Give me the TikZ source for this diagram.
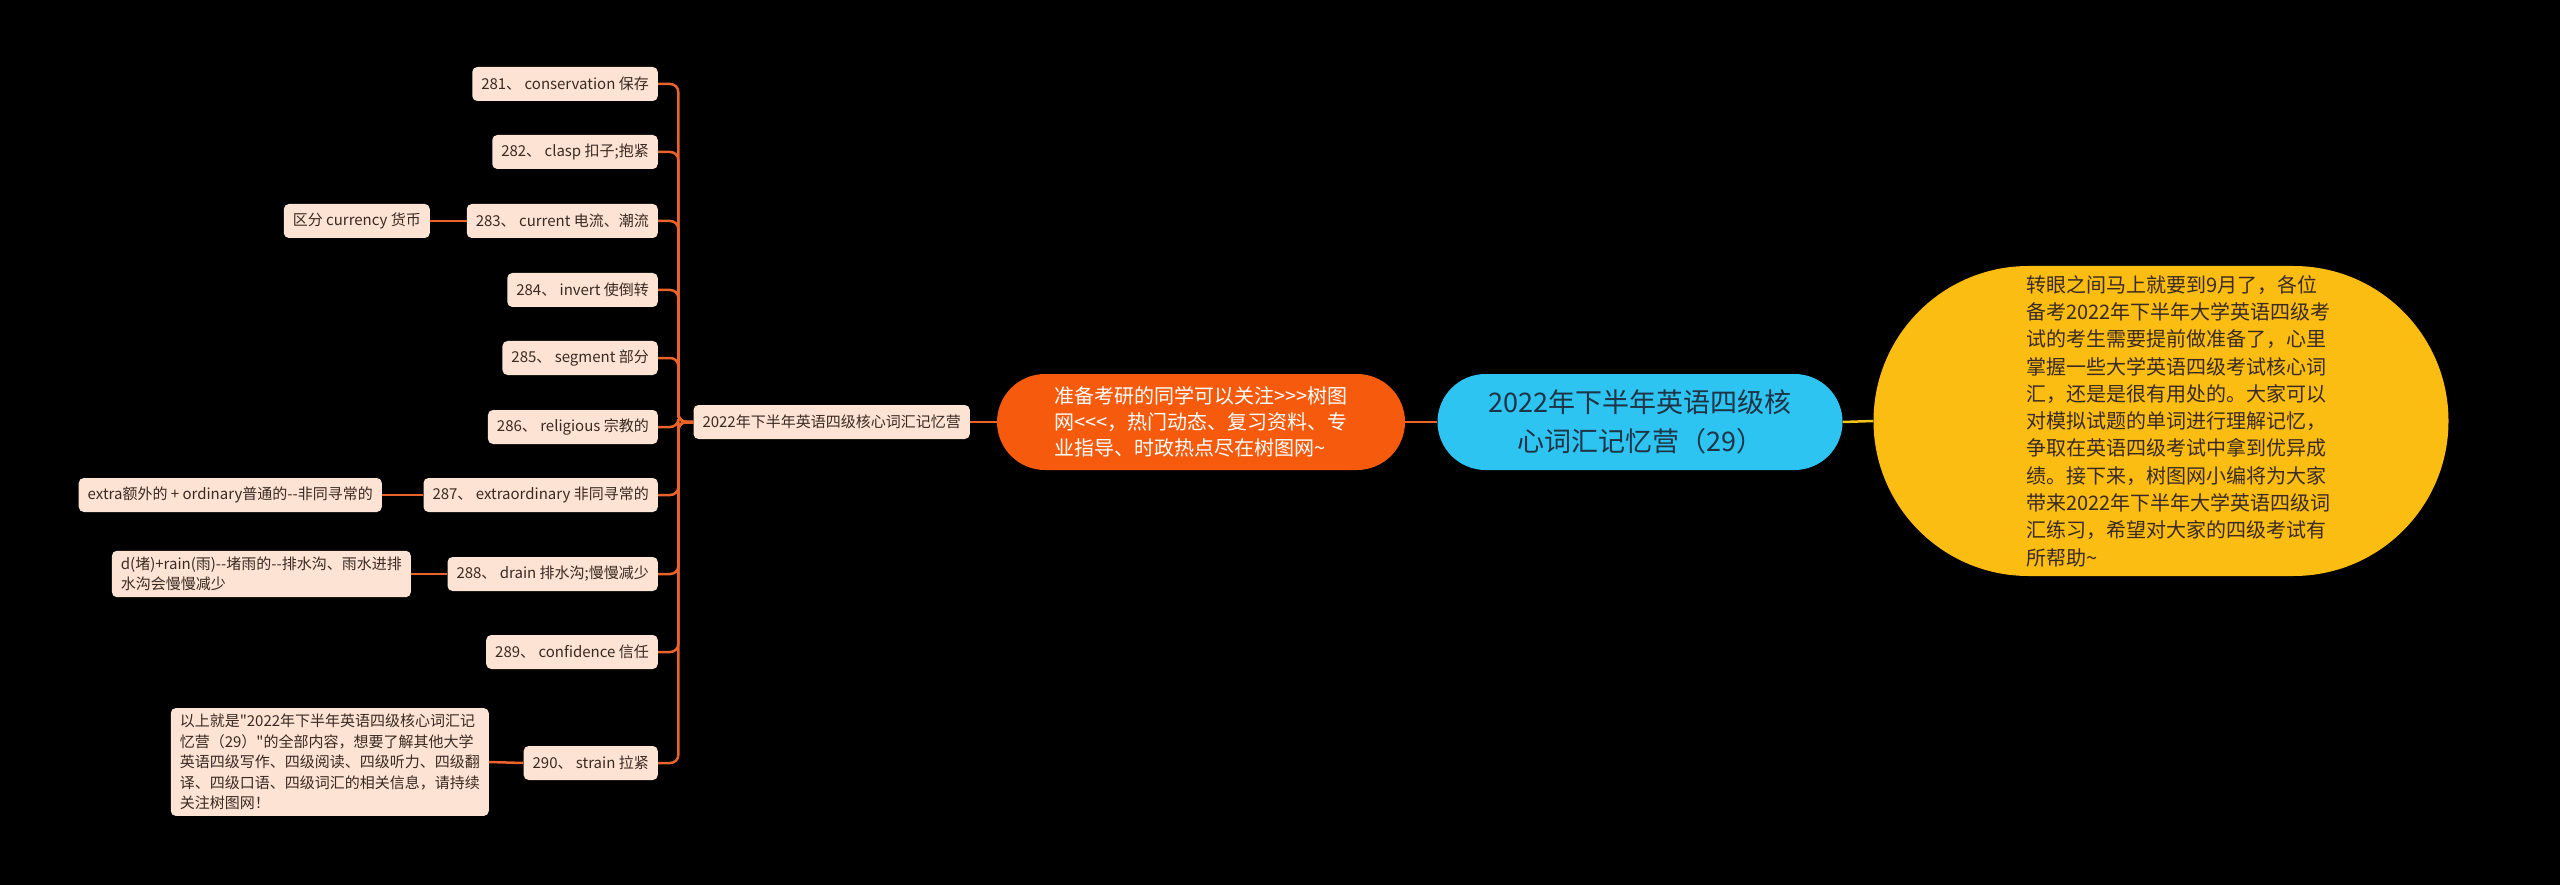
\documentclass[tikz,border=0pt]{standalone}
\usepackage{fontspec}
\setmainfont{Noto Sans CJK SC}
\newfontfamily\zhfont{Noto Sans CJK SC}
\usetikzlibrary{positioning}

\definecolor{rootblue}{HTML}{2EC4F1}
\definecolor{mainorange}{HTML}{F65A0D}
\definecolor{introyellow}{HTML}{FBBD12}
\definecolor{leafpeach}{HTML}{FDE3D4}
\definecolor{linkorange}{HTML}{E9632B}
\definecolor{linkyellow}{HTML}{F0C419}
\definecolor{inktext}{HTML}{3A2A22}
\definecolor{rootink}{HTML}{1D3346}

\tikzset{
  leaf/.style={fill=leafpeach, rounded corners=5pt, text=inktext, align=left,
    font=\zhfont\fontsize{15}{20.5}\selectfont, inner xsep=9pt, inner ysep=6pt,
    minimum height=34pt, anchor=east},
  link/.style={draw=linkorange, line width=2.5pt, rounded corners=8pt},
}

\begin{document}
\begin{tikzpicture}[x=1pt,y=-1pt]
    \fill[black] (0,0) rectangle (2560,885);
    \useasboundingbox (0,0) rectangle (2560,885);
    % centre and intro
    \node[fill=rootblue, text=rootink, rounded corners=48pt, minimum width=405pt,
      minimum height=96pt, align=center, font=\zhfont\fontsize{27}{39}\selectfont]
      (root) at (1640,422) {2022年下半年英语四级核\\心词汇记忆营（29）};
    \node[fill=introyellow, text=inktext, rounded corners=155pt, minimum width=575pt,
      minimum height=310pt, text width=370pt, align=left,
      execute at begin node={\leftskip=50pt}, font=\zhfont\fontsize{20}{27.3}\selectfont]
      (intro) at (2161,421) {转眼之间马上就要到9月了，各位\\备考2022年下半年大学英语四级考\\试的考生需要提前做准备了，心里\\掌握一些大学英语四级考试核心词\\汇，还是是很有用处的。大家可以\\对模拟试题的单词进行理解记忆，\\争取在英语四级考试中拿到优异成\\绩。接下来，树图网小编将为大家\\带来2022年下半年大学英语四级词\\汇练习，希望对大家的四级考试有\\所帮助\textasciitilde};
    \node[fill=mainorange, text=white, rounded corners=48pt, minimum width=408pt,
      minimum height=96pt, align=left, font=\zhfont\fontsize{20}{26}\selectfont]
      (ad) at (1201,422) {准备考研的同学可以关注>>>树图\\网<<<，热门动态、复习资料、专\\业指导、时政热点尽在树图网\textasciitilde};
    \node[leaf] (sub) at (970,422) {2022年下半年英语四级核心词汇记忆营};

    % words 281 - 290
    \node[leaf] (w281) at (658,84) {281、 conservation 保存};
    \node[leaf] (w282) at (658,152) {282、 clasp 扣子;抱紧};
    \node[leaf] (w283) at (658,221) {283、 current 电流、潮流};
    \node[leaf] (w284) at (658,290) {284、 invert 使倒转};
    \node[leaf] (w285) at (658,358) {285、 segment 部分};
    \node[leaf] (w286) at (658,427) {286、 religious 宗教的};
    \node[leaf] (w287) at (658,495) {287、 extraordinary 非同寻常的};
    \node[leaf] (w288) at (658,574) {288、 drain 排水沟;慢慢减少};
    \node[leaf] (w289) at (658,652) {289、 confidence 信任};
    \node[leaf] (w290) at (658,763) {290、 strain 拉紧};

    % notes
    \node[leaf] (n283) at (430,221) {区分 currency 货币};
    \node[leaf] (n287) at (382,495) {extra额外的 + ordinary普通的--非同寻常的};
    \node[leaf] (n288) at (411,574) {d(堵)+rain(雨)--堵雨的--排水沟、雨水进排\\水沟会慢慢减少};
    \node[leaf] (n290) at (489,762) {以上就是"2022年下半年英语四级核心词汇记\\忆营（29）"的全部内容，想要了解其他大学\\英语四级写作、四级阅读、四级听力、四级翻\\译、四级口语、四级词汇的相关信息，请持续\\关注树图网！};

    % links
    \draw[draw=linkyellow, line width=2.5pt] (root.east) -- (intro.west);
    \draw[link] (root.west) -- (ad.east);
    \draw[link] (ad.west) -- (sub.east);
    \foreach \w in {w281,w282,w283,w284,w285,w286,w287,w288,w289,w290}
      \draw[link] (sub.west) -- ++(-15,0) |- (\w.east);
    \draw[link] (w283.west) -- (n283.east);
    \draw[link] (w287.west) -- (n287.east);
    \draw[link] (w288.west) -- (n288.east);
    \draw[link] (w290.west) -- (n290.east);
\end{tikzpicture}
\end{document}
